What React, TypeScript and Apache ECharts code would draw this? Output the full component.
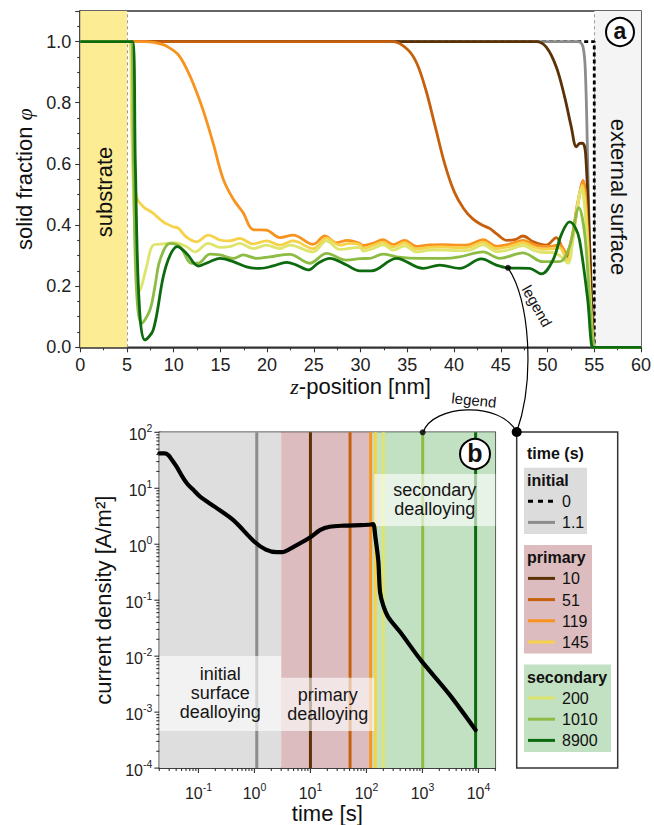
import React, { useEffect, useRef } from 'react';
import * as echarts from 'echarts';

const FONT = '"Liberation Sans", Arial, Helvetica, sans-serif';
const SERIF = '"Liberation Serif", "DejaVu Serif", serif';

// ---------- Panel (a): solid fraction profiles, points are [z (nm), phi] ----------
const PROFILE_TIMES = [0, 1.1, 10, 51, 119, 145, 200, 1010, 8900];

const PHI_0 = [[0, 1], [55, 1], [55, 0], [60, 0]];
const PHI_1_1 = [[0, 1], [53.25, 1], [53.8, 0.982], [54.07, 0.884], [54.33, 0.557], [54.7, 0.12], [54.95, 0.01], [55.2, 0], [60, 0]];
const PHI_10 = [[0, 1], [48.8, 1], [49.87, 0.982], [50.94, 0.917], [51.83, 0.819], [52.54, 0.721], [53.08, 0.656], [53.43, 0.667], [53.75, 0.668], [54.07, 0.634], [54.5, 0.34], [54.85, 0.067], [55.05, 0], [60, 0]];
const PHI_51 = [[0, 1], [33.5, 1], [35, 0.975], [36, 0.93], [37, 0.84], [38, 0.72], [39, 0.6], [40, 0.51], [41, 0.455], [42, 0.42], [43, 0.4], [43.8, 0.389], [44.6, 0.37], [45.6, 0.35], [46.5, 0.352], [47.37, 0.364], [48.5, 0.345], [49.87, 0.334], [50.94, 0.359], [51.5, 0.33], [51.99, 0.296], [52.5, 0.33], [53.2, 0.46], [53.8, 0.545], [54.2, 0.43], [54.6, 0.15], [55, 0], [60, 0]];
const PHI_119 = [[0, 1], [7, 1], [8.88, 0.99], [10, 0.97], [10.67, 0.95], [11.4, 0.91], [12.09, 0.863], [13.16, 0.775], [14.23, 0.667], [15.3, 0.55], [16.37, 0.485], [17.44, 0.44], [18.5, 0.385], [19.94, 0.383], [21.36, 0.359], [22.78, 0.367], [24.92, 0.337], [26.17, 0.364], [27.42, 0.342], [28.6, 0.35], [29.9, 0.34], [30.27, 0.333], [31.3, 0.34], [32.4, 0.352], [33.47, 0.336], [34.72, 0.35], [35.97, 0.33], [37.4, 0.335], [38.82, 0.336], [40.5, 0.334], [41.67, 0.336], [43.1, 0.352], [44.53, 0.331], [46, 0.338], [47.37, 0.35], [48.5, 0.336], [49.5, 0.33], [50.5, 0.331], [51.3, 0.335], [52, 0.31], [52.6, 0.36], [53.2, 0.47], [53.8, 0.545], [54.25, 0.38], [54.6, 0.13], [54.95, 0], [60, 0]];
const PHI_145 = [[0, 1], [5.3, 1], [5.5, 0.75], [5.68, 0.59], [6.04, 0.49], [6.75, 0.46], [7.82, 0.438], [8.88, 0.41], [9.95, 0.394], [10.5, 0.39], [11.38, 0.36], [12.45, 0.345], [13.7, 0.367], [14.95, 0.351], [16, 0.348], [17.08, 0.356], [18.5, 0.338], [19.94, 0.348], [21.36, 0.334], [22.78, 0.348], [24.92, 0.323], [26.35, 0.357], [27.77, 0.334], [28.8, 0.34], [29.9, 0.336], [30.27, 0.324], [31.3, 0.333], [32.4, 0.344], [33.47, 0.328], [34.72, 0.342], [35.97, 0.321], [37.4, 0.327], [38.82, 0.328], [40.5, 0.326], [41.67, 0.328], [43.1, 0.344], [44.53, 0.323], [46, 0.33], [47.37, 0.342], [48.5, 0.328], [49.5, 0.32], [50.5, 0.322], [51.3, 0.325], [52.1, 0.285], [52.7, 0.35], [53.2, 0.46], [53.7, 0.53], [54.25, 0.37], [54.6, 0.12], [54.95, 0], [60, 0]];
const PHI_200 = [[0, 1], [5.3, 1], [5.6, 0.6], [5.9, 0.35], [6.39, 0.185], [7.1, 0.263], [7.82, 0.334], [8.88, 0.338], [10.13, 0.342], [11.38, 0.329], [12.27, 0.312], [13.7, 0.34], [14.95, 0.327], [16, 0.329], [17.08, 0.34], [18.5, 0.323], [19.94, 0.334], [21.36, 0.323], [22.43, 0.334], [24.92, 0.312], [26.35, 0.348], [27.77, 0.32], [29.9, 0.327], [30.27, 0.315], [31.3, 0.323], [32.4, 0.335], [33.47, 0.318], [34.72, 0.332], [35.97, 0.312], [37.4, 0.318], [38.82, 0.318], [40.5, 0.316], [41.67, 0.318], [43.1, 0.335], [44.53, 0.313], [46, 0.32], [47.37, 0.333], [48.5, 0.318], [49.5, 0.31], [50.5, 0.31], [51.3, 0.3], [52.18, 0.275], [52.8, 0.38], [53.3, 0.48], [53.6, 0.52], [54, 0.45], [54.5, 0.2], [54.9, 0.01], [55.05, 0], [60, 0]];
const PHI_1010 = [[0, 1], [5.4, 1], [5.7, 0.6], [6.0, 0.2], [6.57, 0.078], [7.46, 0.122], [8.0, 0.2], [8.53, 0.285], [9.6, 0.34], [10.67, 0.329], [11.92, 0.275], [12.63, 0.275], [13.88, 0.305], [14.95, 0.302], [16.37, 0.291], [17.44, 0.302], [18.87, 0.291], [20.29, 0.296], [22.43, 0.304], [24.57, 0.275], [26.35, 0.307], [28.5, 0.285], [29.9, 0.29], [30.98, 0.291], [32.4, 0.305], [33.84, 0.296], [36.33, 0.291], [38.82, 0.291], [40.6, 0.296], [43.1, 0.312], [44.88, 0.291], [47.37, 0.309], [49.5, 0.28], [51.28, 0.28], [52.36, 0.329], [53.36, 0.457], [53.97, 0.372], [54.5, 0.155], [54.85, 0.013], [55, 0], [60, 0]];
const PHI_8900 = [[0, 1], [5.6, 1], [5.9, 0.6], [6.3, 0.15], [6.93, 0.024], [7.82, 0.057], [8.88, 0.23], [9.6, 0.3], [10.38, 0.329], [11.38, 0.307], [12.63, 0.266], [13.88, 0.28], [14.95, 0.291], [16.37, 0.28], [17.8, 0.263], [19.22, 0.258], [20.65, 0.266], [22.08, 0.278], [23.15, 0.269], [24.39, 0.253], [25.46, 0.275], [26.7, 0.291], [28.5, 0.269], [29.9, 0.25], [31.16, 0.25], [33.84, 0.291], [36.68, 0.258], [38.47, 0.269], [40.6, 0.258], [42.92, 0.289], [44.53, 0.269], [45.77, 0.26], [48.09, 0.258], [49.34, 0.24], [50.58, 0.285], [51.5, 0.37], [52.36, 0.41], [53.0, 0.39], [53.43, 0.35], [54.3, 0.155], [54.68, 0.013], [54.9, 0], [60, 0]];
const PROFILES = [PHI_0, PHI_1_1, PHI_10, PHI_51, PHI_119, PHI_145, PHI_200, PHI_1010, PHI_8900];

const Z_TICKS_MIN = 0, Z_TICKS_MAX = 60, Z_TICK_STEP = 5;
const PHI_MIN = 0, PHI_MAX = 1.1, PHI_STEP = 0.2;
const ANNOT_POINT_A = [[45.77, 0.26]];

// ---------- Panel (b): current density transient ----------
const CURRENT_T = [0.02, 0.025, 0.029, 0.033, 0.041, 0.05, 0.062, 0.08, 0.107, 0.2, 0.42, 1.0, 1.6, 2.5, 3.1, 5, 10, 15, 22, 40, 80, 120, 132, 145, 163, 175, 200, 245, 400, 935, 3000, 8900];
const CURRENT_J = [42, 42, 39, 33, 24, 17, 12.3, 9.5, 7.1, 4.6, 2.7, 1.11, 0.8, 0.72, 0.72, 0.9, 1.33, 1.8, 2.05, 2.15, 2.2, 2.25, 2.3, 1.3, 0.5, 0.14, 0.08, 0.05, 0.027, 0.0085, 0.0021, 0.00048];
const MARK_TIMES = [1.1, 10, 51, 119, 145, 200, 1010, 8900];

const TIME_COLORS: Record<string, string> = {
  '0': '#000000', '1.1': '#8c8c8c', '10': '#5b3106', '51': '#c6600c', '119': '#f7931e',
  '145': '#f5d24a', '200': '#dfe56c', '1010': '#8cbc44', '8900': '#0e6a0e',
};
const colorOf = (t: number) => TIME_COLORS[String(t)];

const BAND_T = [[0.02, 3], [3, 119], [119, 20000]];
const BAND_COLORS = ['#dedede', '#dcbcbe', '#c2e0c2'];
const BOX_LABELS = ['initial\nsurface\ndealloying', 'primary\ndealloying', 'secondary\ndealloying'];
const BOX_T = [[0.02, 3], [3, 138], [138, 20000]];
const BOX_J = [[0.0101, 0.00046], [0.0041, 0.00046], [18, 2.12]];

const T_MIN = 0.02, T_MAX = 20000, J_MIN = 1e-4, J_MAX = 100;
const T_DECADES = [0.01, 0.1, 1, 10, 100, 1000, 10000];
const T_MAJOR = [0.1, 1, 10, 100, 1000, 10000];
const J_DECADES = [1e-4, 1e-3, 1e-2, 1e-1, 1, 10];
const J_MAJOR = [1e-4, 1e-3, 1e-2, 1e-1, 1, 10, 100];
const MINOR_MULT = [2, 3, 4, 5, 6, 7, 8, 9];
const ANNOT_POINT_B = [[1010, 100]];

// ---------- legend ----------
const LEGEND_TITLE = 'time (s)';
const LEGEND_GROUP_TITLES = ['initial', 'primary', 'secondary'];
const LEGEND_GROUP_TIMES = [[0, 1.1], [10, 51, 119, 145], [200, 1010, 8900]];
const LEGEND_GROUP_FILLS = ['#dcdcdc', '#dcbcbe', '#c2e0c2'];
const LEGEND_GROUP_WIDTHS = [63, 68, 87];

function buildOption() {
  const tMinor = T_DECADES.flatMap((d) => MINOR_MULT.map((m) => m * d)).filter((v) => v >= T_MIN * 0.999 && v <= T_MAX * 1.001);
  const jMinor = J_DECADES.flatMap((d) => MINOR_MULT.map((m) => m * d));
  const xTickData = [...T_MAJOR.map((t) => [t, J_MIN, 5]), ...tMinor.map((t) => [t, J_MIN, 3])];
  const yTickData = [...J_MAJOR.map((j) => [T_MIN, j, 5]), ...jMinor.map((j) => [T_MIN, j, 3])];

  const logLabel = (v: number) => {
    const l = Math.log10(v);
    const e = Math.round(l);
    if (Math.abs(l - e) > 1e-6) return '';
    return `{b|10}{s|${e}}`;
  };
  const logRich = {
    b: { fontSize: 16, fontFamily: FONT, color: '#222', lineHeight: 20, verticalAlign: 'bottom' },
    s: { fontSize: 10.5, fontFamily: FONT, color: '#222', lineHeight: 20, verticalAlign: 'top' },
  };

  const profileSeries = PROFILES.map((d, i) => {
    const s: any = {
      type: 'line', name: String(PROFILE_TIMES[i]), xAxisIndex: 0, yAxisIndex: 0, data: d,
      showSymbol: false, symbol: 'none', clip: false,
      smooth: i === 0 ? false : 0.35,
      lineStyle: { color: colorOf(PROFILE_TIMES[i]), width: 2.8, type: i === 0 ? [4, 3] : 'solid' },
      z: 2,
    };
    if (i === 0) {
      s.markArea = {
        silent: true, z: 1,
        data: [
          [{ xAxis: 0, itemStyle: { color: '#fcec94' } }, { xAxis: 5 }],
          [{ xAxis: 55, itemStyle: { color: '#f4f4f4' } }, { xAxis: 60 }],
        ],
      };
      s.markLine = {
        silent: true, z: 1, symbol: ['none', 'none'], label: { show: false },
        lineStyle: { color: '#999', width: 1, type: [3, 3] },
        data: [{ xAxis: 5 }, { xAxis: 55 }],
      };
    }
    return s;
  });

  const markSeries = MARK_TIMES.map((t, i) => {
    const s: any = {
      type: 'line', name: 'mark ' + t, xAxisIndex: 1, yAxisIndex: 1,
      data: [[t, J_MIN], [t, J_MAX]], showSymbol: false, symbol: 'none',
      lineStyle: { color: colorOf(t), width: 3 }, z: 3,
    };
    if (i === 0) {
      s.markArea = {
        silent: true, z: 6,
        itemStyle: { color: 'rgba(255,255,255,0.62)' },
        label: { show: true, position: 'inside', color: '#151515', fontSize: 18, lineHeight: 19, fontFamily: FONT },
        data: BOX_LABELS.map((name, k) => [
          { name, coord: [BOX_T[k][0], BOX_J[k][0]] },
          { coord: [BOX_T[k][1], BOX_J[k][1]] },
        ]),
      };
    }
    return s;
  });

  const currentSeries: any = {
    type: 'line', name: 'current density', xAxisIndex: 1, yAxisIndex: 1,
    data: CURRENT_T.map((t, i) => [t, CURRENT_J[i]]),
    showSymbol: false, symbol: 'none', smooth: 0.3,
    lineStyle: { color: '#000', width: 4.2, join: 'round', cap: 'round' }, z: 10,
    markArea: {
      silent: true, z: 1,
      data: BAND_T.map((b, k) => [{ xAxis: b[0], itemStyle: { color: BAND_COLORS[k] } }, { xAxis: b[1] }]),
    },
  };

  const tickRender = (horizontal: boolean) => (params: any, api: any) => {
    const p = api.coord([api.value(0), api.value(1)]);
    const len = api.value(2);
    return {
      type: 'line',
      shape: horizontal
        ? { x1: p[0] - len, y1: p[1], x2: p[0], y2: p[1] }
        : { x1: p[0], y1: p[1], x2: p[0], y2: p[1] + len },
      style: { stroke: '#333', lineWidth: 1.1 },
    };
  };

  // ----- graphic: labels, legend, annotations -----
  const g: any[] = [];
  const txt = (x: number, y: number, text: string, o: any = {}) => ({
    type: 'text', x, y, z: 100, rotation: o.rotation || 0,
    style: {
      text, fontSize: o.fontSize || 16, fontFamily: FONT, fontWeight: o.bold ? 'bold' : 'normal', fill: o.fill || '#111',
      align: o.align || 'left', verticalAlign: 'middle', textAlign: o.align || 'left', textVerticalAlign: 'middle',
    },
  });
  g.push(txt(104, 192, 'substrate', { fontSize: 22, align: 'center', rotation: Math.PI / 2 }));
  g.push(txt(618, 197, 'external surface', { fontSize: 22, align: 'center', rotation: -Math.PI / 2 }));
  // panel letters
  g.push({ type: 'circle', z: 100, shape: { cx: 620, cy: 32, r: 14 }, style: { fill: '#fff', stroke: '#000', lineWidth: 2 } });
  g.push(txt(620, 31, 'a', { fontSize: 23, bold: true, align: 'center' }));
  g.push({ type: 'circle', z: 100, shape: { cx: 475, cy: 454, r: 15 }, style: { fill: '#fff', stroke: '#000', lineWidth: 2 } });
  g.push(txt(475, 453, 'b', { fontSize: 25, bold: true, align: 'center' }));

  // legend box
  const LX = 516.7, LY = 432, LW = 101, LH = 336;
  g.push({ type: 'rect', z: 99, shape: { x: LX, y: LY, width: LW, height: LH }, style: { fill: '#fff', stroke: '#333', lineWidth: 1.5 } });
  g.push(txt(527, 453, LEGEND_TITLE, { bold: true }));
  let top = 467.7;
  LEGEND_GROUP_TITLES.forEach((title, gi) => {
    const times = LEGEND_GROUP_TIMES[gi];
    const h = 33.5 + (times.length - 1) * 21.2 + 11.5;
    g.push({ type: 'rect', z: 100, shape: { x: 524, y: top, width: LEGEND_GROUP_WIDTHS[gi], height: h }, style: { fill: LEGEND_GROUP_FILLS[gi] } });
    g.push(txt(527, top + 12.5, title, { bold: true }));
    times.forEach((t, k) => {
      const cy = top + 33.5 + k * 21.2;
      g.push({
        type: 'line', z: 101, shape: { x1: 528, y1: cy, x2: 555, y2: cy },
        style: { stroke: colorOf(t), lineWidth: 3, lineDash: t === 0 ? [5, 5] : null },
      });
      g.push(txt(562, cy + 0.5, String(t), { fontSize: 16 }));
    });
    top += h + 11;
  });

  // annotations "legend"
  g.push({ type: 'bezierCurve', z: 102, shape: { x1: 508.3, y1: 268.3, cpx1: 530, cpy1: 300, cpx2: 535, cpy2: 380, x2: 516.7, y2: 432 }, style: { stroke: '#000', lineWidth: 1.2, fill: null } });
  g.push({ type: 'bezierCurve', z: 102, shape: { x1: 423.3, y1: 432, cpx1: 432, cpy1: 405, cpx2: 500, cpy2: 400, x2: 516.7, y2: 432 }, style: { stroke: '#000', lineWidth: 1.2, fill: null } });
  g.push({ type: 'circle', z: 103, shape: { cx: 516.7, cy: 432, r: 5 }, style: { fill: '#000' } });
  g.push(txt(537, 306, 'legend', { fontSize: 15, align: 'center', rotation: -1.06 }));
  g.push(txt(474, 400, 'legend', { fontSize: 15, align: 'center', rotation: -0.1 }));

  return {
    animation: false,
    backgroundColor: '#fff',
    textStyle: { fontFamily: FONT },
    grid: [
      { left: 80.2, top: 11, width: 561.8, height: 336.3, show: true, borderColor: '#333', borderWidth: 1.5, backgroundColor: 'transparent' },
      { left: 159.3, top: 432.3, width: 336, height: 336, show: true, borderColor: '#333', borderWidth: 1.5, backgroundColor: 'transparent' },
    ],
    xAxis: [
      {
        type: 'value', gridIndex: 0, min: Z_TICKS_MIN, max: Z_TICKS_MAX, interval: Z_TICK_STEP,
        axisLine: { show: true, lineStyle: { color: '#333', width: 1.5 } },
        axisTick: { show: true, length: 5, lineStyle: { color: '#333', width: 1.1 } },
        minorTick: { show: true, splitNumber: 2, length: 3, lineStyle: { color: '#333', width: 1.1 } },
        splitLine: { show: false },
        axisLabel: { fontSize: 18, color: '#222', fontFamily: FONT, margin: 9 },
        name: '{it|z}-position [nm]', nameLocation: 'middle', nameGap: 26,
        nameTextStyle: { fontSize: 22, color: '#111', fontFamily: FONT, rich: { it: { fontSize: 22, fontFamily: SERIF, fontStyle: 'italic', color: '#111' } } },
      },
      {
        type: 'log', logBase: 10, gridIndex: 1, min: T_MIN, max: T_MAX,
        axisLine: { show: true, lineStyle: { color: '#333', width: 1.5 } },
        axisTick: { show: false }, splitLine: { show: false },
        axisLabel: { formatter: logLabel, rich: logRich, margin: 13, color: '#222' },
        name: 'time [s]', nameLocation: 'middle', nameGap: 30,
        nameTextStyle: { fontSize: 22, color: '#111', fontFamily: FONT },
      },
    ],
    yAxis: [
      {
        type: 'value', gridIndex: 0, min: PHI_MIN, max: PHI_MAX, interval: PHI_STEP,
        axisLine: { show: true, lineStyle: { color: '#333', width: 1.5 } },
        axisTick: { show: true, length: 5, lineStyle: { color: '#333', width: 1.1 } },
        minorTick: { show: true, splitNumber: 4, length: 3, lineStyle: { color: '#333', width: 1.1 } },
        splitLine: { show: false },
        axisLabel: { fontSize: 18, color: '#222', fontFamily: FONT, margin: 9, showMaxLabel: false, formatter: (v: number) => v.toFixed(1) },
        name: 'solid fraction {it|φ}', nameLocation: 'middle', nameGap: 41,
        nameTextStyle: { fontSize: 22, color: '#111', fontFamily: FONT, rich: { it: { fontSize: 22, fontFamily: SERIF, fontStyle: 'italic', color: '#111' } } },
      },
      {
        type: 'log', logBase: 10, gridIndex: 1, min: J_MIN, max: J_MAX,
        axisLine: { show: true, lineStyle: { color: '#333', width: 1.5 } },
        axisTick: { show: false }, splitLine: { show: false },
        axisLabel: { formatter: logLabel, rich: logRich, margin: 7, color: '#222' },
        name: 'current density [A/m²]', nameLocation: 'middle', nameGap: 45,
        nameTextStyle: { fontSize: 22, color: '#111', fontFamily: FONT },
      },
    ],
    series: [
      ...profileSeries,
      { type: 'scatter', name: 'anchor a', xAxisIndex: 0, yAxisIndex: 0, data: ANNOT_POINT_A, symbolSize: 6, itemStyle: { color: '#000' }, z: 20, silent: true },
      currentSeries,
      ...markSeries,
      { type: 'scatter', name: 'anchor b', xAxisIndex: 1, yAxisIndex: 1, data: ANNOT_POINT_B, symbolSize: 6, itemStyle: { color: '#000' }, z: 20, clip: false, silent: true },
      { type: 'custom', name: 'x ticks', xAxisIndex: 1, yAxisIndex: 1, data: xTickData, renderItem: tickRender(false), clip: false, silent: true, z: 12 },
      { type: 'custom', name: 'y ticks', xAxisIndex: 1, yAxisIndex: 1, data: yTickData, renderItem: tickRender(true), clip: false, silent: true, z: 12 },
    ],
    graphic: { elements: g },
  };
}

export default function App() {
  const ref = useRef<HTMLDivElement>(null);
  useEffect(() => {
    if (!ref.current) return;
    const chart = echarts.init(ref.current, null, { renderer: 'svg' });
    chart.setOption(buildOption() as any);
    return () => chart.dispose();
  }, []);
  return <div ref={ref} style={{ position: 'fixed', left: 0, top: 0, width: 654, height: 825, background: '#fff' }} />;
}
